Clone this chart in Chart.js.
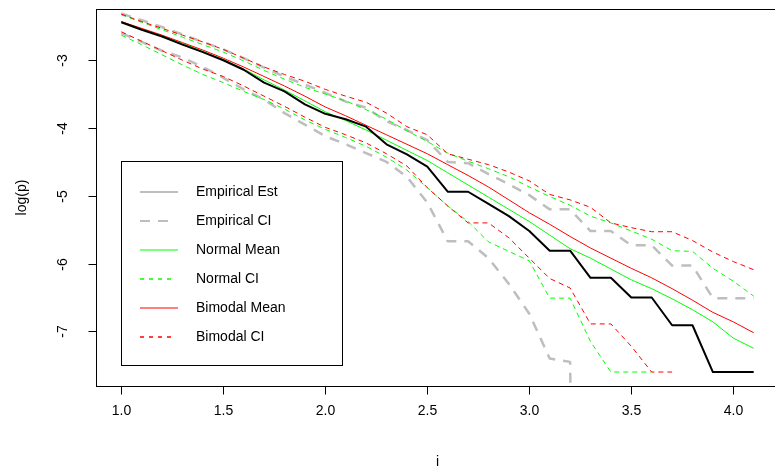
<!DOCTYPE html>
<html>
<head>
<meta charset="utf-8">
<title>log(p) vs i</title>
<script src="https://cdn.jsdelivr.net/npm/chart.js"></script>
<style>
  html, body { margin: 0; padding: 0; background: #fff; }
  #wrap { width: 775px; height: 472px; overflow: hidden; position: relative; }
  canvas { display: block; }
</style>
</head>
<body>
<div id="wrap"><canvas id="myChart" width="790" height="472"></canvas></div>
<script>
// x positions (i) shared by every series
const xValues = [1.0, 1.1, 1.2, 1.3, 1.4, 1.5, 1.6, 1.7, 1.8, 1.9,
                 2.0, 2.1, 2.2, 2.3, 2.4, 2.5, 2.6, 2.7, 2.8, 2.9,
                 3.0, 3.1, 3.2, 3.3, 3.4, 3.5, 3.6, 3.7, 3.8, 3.9,
                 4.0, 4.1];

// tick labels
const xTicks = [1.0, 1.5, 2.0, 2.5, 3.0, 3.5, 4.0];
const yTicks = [-3, -4, -5, -6, -7];

// series values, log(p)
const empiricalEst = [-2.44, -2.55, -2.65, -2.77, -2.88, -3.00, -3.14, -3.33, -3.46, -3.65,
                      -3.79, -3.87, -3.98, -4.24, -4.39, -4.57, -4.94, -4.94, -5.12, -5.30,
                      -5.52, -5.81, -5.81, -6.21, -6.21, -6.50, -6.50, -6.91, -6.91, -7.60,
                      -7.60, -7.60];
const empiricalUpper = [-2.31, -2.41, -2.51, -2.62, -2.73, -2.84, -2.97, -3.11, -3.24, -3.36,
                        -3.48, -3.61, -3.70, -3.90, -4.03, -4.18, -4.50, -4.52, -4.68, -4.83,
                        -4.99, -5.20, -5.20, -5.52, -5.52, -5.73, -5.73, -6.03, -6.03, -6.51,
                        -6.51, -6.51];
// the lower empirical CI falls to log(0) after 3.2 (runs off the bottom)
const empiricalLower = [-2.60, -2.73, -2.86, -2.96, -3.10, -3.26, -3.43, -3.58, -3.78, -3.95,
                        -4.12, -4.24, -4.37, -4.50, -4.72, -5.10, -5.67, -5.67, -5.92, -6.30,
                        -6.74, -7.40, -7.45, -30, null, null, null, null, null, null,
                        null, null];
const normalMean = [-2.43, -2.54, -2.64, -2.75, -2.87, -2.99, -3.13, -3.29, -3.44, -3.60,
                    -3.76, -3.89, -4.03, -4.18, -4.33, -4.48, -4.66, -4.84, -5.02, -5.20,
                    -5.38, -5.58, -5.78, -5.92, -6.08, -6.24, -6.37, -6.52, -6.68, -6.86,
                    -7.10, -7.25];
const normalUpper = [-2.33, -2.44, -2.55, -2.66, -2.77, -2.88, -3.01, -3.15, -3.28, -3.40,
                     -3.50, -3.60, -3.73, -3.87, -4.04, -4.20, -4.37, -4.49, -4.60, -4.72,
                     -4.87, -5.01, -5.14, -5.30, -5.40, -5.52, -5.64, -5.81, -5.82, -6.07,
                     -6.26, -6.48];
const normalLower = [-2.63, -2.77, -2.92, -3.07, -3.21, -3.33, -3.46, -3.58, -3.72, -3.88,
                     -4.02, -4.14, -4.27, -4.43, -4.62, -4.88, -5.15, -5.38, -5.68, -5.82,
                     -5.96, -6.51, -6.51, -7.15, -7.60, -7.60, -7.60, null, null, null,
                     null, null];
const bimodalMean = [-2.43, -2.53, -2.63, -2.74, -2.85, -2.97, -3.10, -3.24, -3.38, -3.53,
                     -3.69, -3.82, -3.96, -4.10, -4.24, -4.38, -4.54, -4.70, -4.87, -5.06,
                     -5.25, -5.42, -5.60, -5.77, -5.92, -6.07, -6.21, -6.37, -6.54, -6.72,
                     -6.86, -7.02];
const bimodalUpper = [-2.32, -2.43, -2.53, -2.63, -2.73, -2.84, -2.97, -3.10, -3.21, -3.31,
                      -3.43, -3.53, -3.62, -3.78, -3.98, -4.10, -4.38, -4.46, -4.54, -4.65,
                      -4.78, -4.98, -5.06, -5.17, -5.40, -5.47, -5.53, -5.53, -5.66, -5.83,
                      -5.97, -6.09];
const bimodalLower = [-2.58, -2.72, -2.86, -3.00, -3.13, -3.24, -3.38, -3.53, -3.68, -3.84,
                      -3.99, -4.10, -4.22, -4.38, -4.56, -4.88, -5.15, -5.40, -5.40, -5.62,
                      -5.92, -6.22, -6.36, -6.89, -6.89, -7.22, -7.60, -7.60, null, null,
                      null, null];

const FONT = "'Liberation Sans', Arial, sans-serif";
const GRAY = '#bebebe';
const GREEN = '#00ff00';
const RED = '#ff0000';

// legend rows: [label, colour, width, dash, line end]
const legendRows = [
    ['Empirical Est', GRAY, 2, [], 178],
    ['Empirical CI', GRAY, 2, [10, 8], 168],
    ['Normal Mean', GREEN, 1, [], 178],
    ['Normal CI', GREEN, 1.3, [4, 5], 174],
    ['Bimodal Mean', RED, 1, [], 178],
    ['Bimodal CI', RED, 1.3, [4, 5], 174]
];

const ctx = document.getElementById('myChart').getContext('2d');

function toPoints(values) {
    return xValues.map((x, i) => ({ x: x, y: values[i] }));
}

function lineSet(label, values, color, width, dash) {
    return {
        label: label,
        data: toPoints(values),
        borderColor: color,
        borderWidth: width,
        borderDash: dash,
        pointRadius: 0,
        tension: 0,
        fill: false,
        spanGaps: false,
        borderJoinStyle: 'round'
    };
}

// R style box, axes, titles
const rAxes = {
    id: 'rAxes',
    afterDraw(chart) {
        const c = chart.ctx;
        const a = chart.chartArea;
        const x = chart.scales.x, y = chart.scales.y;
        c.save();
        c.strokeStyle = '#000';
        c.fillStyle = '#000';
        c.lineWidth = 1;
        c.strokeRect(Math.round(a.left) + 0.5, Math.round(a.top) + 0.5,
                     Math.round(a.right - a.left), Math.round(a.bottom - a.top));

        c.font = '14px ' + FONT;
        c.textAlign = 'center';
        c.textBaseline = 'middle';
        const by = Math.round(a.bottom) + 0.5;
        xTicks.forEach(v => {
            const px = Math.round(x.getPixelForValue(v)) + 0.5;
            c.beginPath();
            c.moveTo(px, by);
            c.lineTo(px, by + 8);
            c.stroke();
            c.fillText(v.toFixed(1), px, 411);
        });

        const lx = Math.round(a.left) + 0.5;
        yTicks.forEach(v => {
            const py = Math.round(y.getPixelForValue(v)) + 0.5;
            c.beginPath();
            c.moveTo(lx, py);
            c.lineTo(lx - 8, py);
            c.stroke();
            c.save();
            c.translate(63, py);
            c.rotate(-Math.PI / 2);
            c.fillText(String(v), 0, 0);
            c.restore();
        });

        // axis titles
        c.fillText('i', (a.left + a.right) / 2, 462);
        c.save();
        c.translate(22, (a.top + a.bottom) / 2);
        c.rotate(-Math.PI / 2);
        c.fillText('log(p)', 0, 0);
        c.restore();
        c.restore();
    }
};

// R style legend box inside the plot
const rLegend = {
    id: 'rLegend',
    afterDraw(chart) {
        const c = chart.ctx;
        c.save();
        c.fillStyle = '#fff';
        c.fillRect(122, 162, 220, 203);
        c.strokeStyle = '#000';
        c.lineWidth = 1;
        c.strokeRect(121.5, 161.5, 221, 204);
        c.font = '14px ' + FONT;
        c.textAlign = 'left';
        c.textBaseline = 'middle';
        legendRows.forEach((row, i) => {
            const yy = Math.round(192 + i * 28.9);
            c.strokeStyle = row[1];
            c.lineWidth = row[2];
            c.setLineDash(row[3]);
            c.beginPath();
            c.moveTo(140, yy);
            c.lineTo(row[4], yy);
            c.stroke();
            c.setLineDash([]);
            c.fillStyle = '#000';
            c.fillText(row[0], 196, yy);
        });
        c.restore();
    }
};

const myChart = new Chart(ctx, {
    type: 'line',
    data: {
        datasets: [
            lineSet('Empirical Est', empiricalEst, '#000000', 2, []),
            lineSet('Bimodal Mean', bimodalMean, RED, 1, []),
            lineSet('Normal Mean', normalMean, GREEN, 1, []),
            lineSet('Bimodal CI upper', bimodalUpper, RED, 1, [5, 4]),
            lineSet('Bimodal CI lower', bimodalLower, RED, 1, [5, 4]),
            lineSet('Normal CI upper', normalUpper, GREEN, 1, [5, 4]),
            lineSet('Normal CI lower', normalLower, GREEN, 1, [5, 4]),
            lineSet('Empirical CI upper', empiricalUpper, GRAY, 2.5, [10, 8]),
            lineSet('Empirical CI lower', empiricalLower, GRAY, 2.5, [10, 8])
        ]
    },
    options: {
        responsive: false,
        animation: false,
        devicePixelRatio: 1,
        layout: { padding: { left: 96, top: 9, right: 11, bottom: 86 } },
        plugins: { legend: { display: false }, tooltip: { enabled: false } },
        scales: {
            x: { type: 'linear', min: 0.876, max: 4.224, display: false },
            y: { type: 'linear', min: -7.806, max: -2.244, display: false }
        }
    },
    plugins: [rAxes, rLegend]
});
</script>
</body>
</html>
